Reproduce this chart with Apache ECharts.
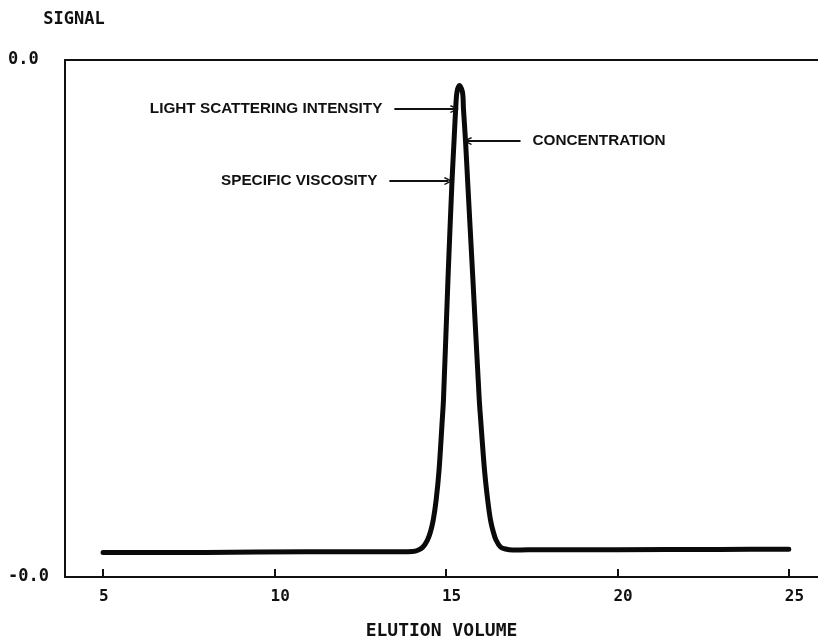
<!DOCTYPE html>
<html>
<head>
<meta charset="utf-8">
<script src="https://cdn.jsdelivr.net/npm/echarts@6/dist/echarts.min.js"></script>
<style>
  html, body { margin: 0; padding: 0; background: #fff; }
  #chart { width: 818px; height: 637px; }
</style>
</head>
<body>
<div id="chart"></div>
<script>
// Elution profile (detector signal vs elution volume)
const elutionVolume = [
  5, 8, 11, 13, 13.7,
  14.022, 14.197, 14.328, 14.46, 14.547, 14.629, 14.714, 14.799, 14.892, 14.927,
  15.061, 15.175, 15.237, 15.283, 15.321, 15.394,
  15.482, 15.511, 15.569, 15.634, 15.782, 15.972, 16.013, 16.124, 16.217, 16.299,
  16.381, 16.46, 16.591, 16.737, 16.942, 17.4, 20, 23, 25
];
const signal = [
  -0.0362, -0.0362, -0.0361, -0.0361, -0.0361,
  -0.03606, -0.03582, -0.03536, -0.03428, -0.03304, -0.03118, -0.02809, -0.02345, -0.01571, -0.01262,
  0.00641, 0.02111, 0.0276, 0.0324, 0.03503, 0.03604,
  0.03503, 0.0324, 0.0276, 0.02111, 0.00641, -0.01262, -0.01571, -0.02345, -0.02809, -0.03118,
  -0.03304, -0.03428, -0.03536, -0.03567, -0.03582, -0.0358, -0.03578, -0.03574, -0.0357
];

// Axis ticks
const xTicks = [5, 10, 15, 20, 25];
const yTicks = [-0.04, 0.04];
const xRange = [3.89, 25.85];
const yRange = [-0.04, 0.04];

// Detector annotations: [label, y, x of arrow tail, x of arrow head]
const annotations = [
  ['LIGHT SCATTERING INTENSITY', 0.0324, 13.496, 15.248],
  ['CONCENTRATION', 0.02745, 17.175, 15.628],
  ['SPECIFIC VISCOSITY', 0.02126, 13.35, 15.073]
];

const monoFont = '"DejaVu Sans Mono", monospace';
const ink = '#111';

const chart = echarts.init(document.getElementById('chart'), null, { renderer: 'canvas' });

const openArrow = 'path://M5,0 L10,7.2 L8.7,8 L5,2.8 L1.3,8 L0,7.2 Z';

chart.setOption({
  animation: false,
  backgroundColor: '#fff',
  grid: { left: 65, top: 60, right: 0, bottom: 60, containLabel: false, outerBoundsMode: 'none' },
  xAxis: [
    {
      type: 'value',
      min: xRange[0],
      max: xRange[1],
      name: 'ELUTION VOLUME',
      nameLocation: 'middle',
      nameGap: 45,
      nameTextStyle: { fontFamily: monoFont, fontSize: 18, fontWeight: 'bold', color: ink, verticalAlign: 'top' },
      axisLine: { show: true, onZero: false, lineStyle: { color: ink, width: 2 } },
      axisTick: { show: true, inside: true, length: 8, customValues: xTicks, lineStyle: { color: ink, width: 2 } },
      axisLabel: {
        customValues: xTicks,
        margin: 12,
        align: 'left',
        padding: [0, 0, 0, -4],
        fontFamily: monoFont, fontSize: 16, fontWeight: 'bold', color: ink
      },
      splitLine: { show: false }
    },
    {
      type: 'value',
      position: 'top',
      min: xRange[0],
      max: xRange[1],
      axisLine: { show: true, onZero: false, lineStyle: { color: ink, width: 2 } },
      axisTick: { show: false },
      axisLabel: { show: false },
      splitLine: { show: false }
    }
  ],
  yAxis: {
    type: 'value',
    min: yRange[0],
    max: yRange[1],
    name: 'SIGNAL',
    nameLocation: 'end',
    nameGap: 32,
    nameTextStyle: { fontFamily: monoFont, fontSize: 17, fontWeight: 'bold', color: ink, align: 'center', padding: [0, 0, 0, 18] },
    axisLine: { show: true, onZero: false, lineStyle: { color: ink, width: 2 } },
    axisTick: { show: false },
    axisLabel: {
      customValues: yTicks,
      align: 'left',
      margin: 57,
      padding: [6, 0, 0, 0],
      formatter: v => v.toFixed(1),
      fontFamily: monoFont, fontSize: 17, fontWeight: 'bold', color: ink
    },
    splitLine: { show: false }
  },
  series: [
    {
      name: 'Signal',
      type: 'line',
      data: elutionVolume.map((x, i) => [x, signal[i]]),
      showSymbol: false,
      smooth: 0.3,
      lineStyle: { color: '#0a0a0a', width: 5, cap: 'round', join: 'round' },
      markLine: {
        silent: true,
        symbol: ['none', openArrow],
        symbolSize: [8, 9],
        lineStyle: { color: ink, width: 2, type: 'solid' },
        label: {
          show: true,
          position: 'start',
          distance: 12,
          fontFamily: '"Liberation Sans", Arial, sans-serif',
          fontSize: 15.3,
          fontWeight: 'bold',
          color: ink
        },
        data: annotations.map(a => [
          { coord: [a[2], a[1]], label: { formatter: a[0] } },
          { coord: [a[3], a[1]] }
        ])
      }
    }
  ]
});
</script>
</body>
</html>
